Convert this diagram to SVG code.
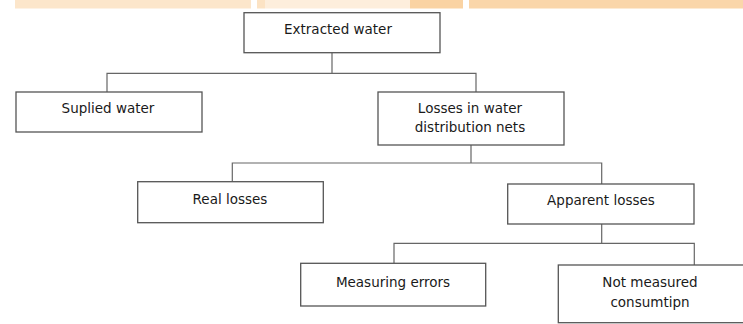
<svg xmlns="http://www.w3.org/2000/svg" width="743" height="324" viewBox="0 0 743 324">
<style>
.box{fill:#ffffff;stroke:#555;stroke-width:1.3}
.t{font-family:"DejaVu Sans",Verdana,sans-serif;font-size:13.5px;fill:#1a1a1a;text-anchor:middle}
.c{fill:none;stroke:#666;stroke-width:1.2}
</style>
<rect width="743" height="324" fill="#ffffff"/>
<g id="bands">
<rect x="15" y="0" width="236" height="8.5" fill="#FCE6CB"/>
<rect x="257" y="0" width="8" height="8.5" fill="#FCE3C4"/>
<rect x="265" y="0" width="145" height="8.5" fill="#FDEEDC"/>
<rect x="410" y="0" width="53" height="8.5" fill="#FAD3A3"/>
<rect x="469" y="0" width="274" height="8.5" fill="#FAD6AA"/>
</g>
<g id="connectors">
<path class="c" d="M332 52.7V73.3M107 92V73.3H476V92"/>
<path class="c" d="M471 145V163M232.3 181.7V163H601.7V184"/>
<path class="c" d="M601.7 224V243.3M394 263.3V243.3H694.3V265"/>
</g>
<g id="extracted">
<rect class="box" x="244" y="12.7" width="196" height="40"/>
<text class="t" x="338" y="34">Extracted water</text>
</g>
<g id="supplied">
<rect class="box" x="16" y="92" width="186" height="40"/>
<text class="t" x="108" y="113">Suplied water</text>
</g>
<g id="losses">
<rect class="box" x="378" y="92" width="186" height="53"/>
<text class="t" x="470" y="113">Losses in water</text>
<text class="t" x="470" y="132">distribution nets</text>
</g>
<g id="real">
<rect class="box" x="137.7" y="181.7" width="185.6" height="41"/>
<text class="t" x="230" y="204">Real losses</text>
</g>
<g id="apparent">
<rect class="box" x="507.7" y="184" width="186.3" height="40"/>
<text class="t" x="601" y="205">Apparent losses</text>
</g>
<g id="measuring">
<rect class="box" x="300.7" y="263.3" width="185" height="42.7"/>
<text class="t" x="393" y="286.5">Measuring errors</text>
</g>
<g id="notmeasured">
<rect class="box" x="558.3" y="265" width="190" height="57.7"/>
<text class="t" x="650" y="286.5">Not measured</text>
<text class="t" x="650" y="306.5">consumtipn</text>
</g>
</svg>
